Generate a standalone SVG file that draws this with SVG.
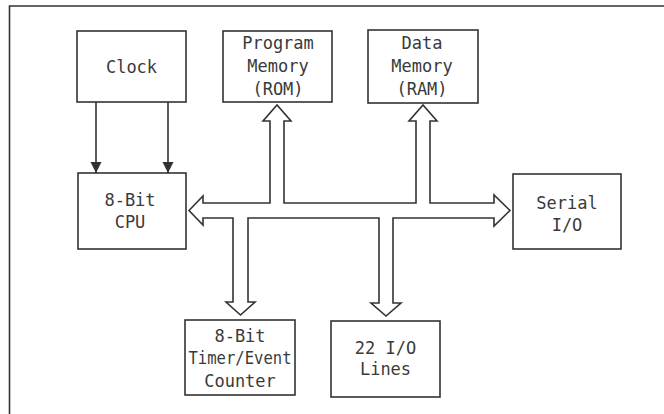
<svg xmlns="http://www.w3.org/2000/svg" width="664" height="414" viewBox="0 0 664 414">
<defs>
<style>
.box{fill:#fff;stroke:#333;stroke-width:1.6}
.t{font-family:"DejaVu Sans Mono","Liberation Mono",monospace;font-size:17px;fill:#3a3a3a;text-anchor:middle}
.ln{stroke:#333;stroke-width:1.6;fill:none}
.bus{fill:#fff;stroke:#333;stroke-width:1.6;stroke-linejoin:miter}
</style>
<marker id="ah" viewBox="0 0 10 10" refX="10" refY="5" markerWidth="11" markerHeight="12" markerUnits="userSpaceOnUse" orient="auto">
<path d="M0,0 L10,5 L0,10 Z" fill="#333"/>
</marker>
</defs>
<rect width="664" height="414" fill="#fff"/>
<path class="ln" d="M9.5,414 V6 H664"/>
<g id="connectors">
<line class="ln" x1="96" y1="102" x2="96" y2="173" marker-end="url(#ah)"/>
<line class="ln" x1="168" y1="102" x2="168" y2="173" marker-end="url(#ah)"/>
<path class="bus" d="M189,210.5 L203,196 L203,203 L270,203 L270,121 L263,121 L277,105 L291,121 L284,121 L284,203 L416,203 L416,121 L409,121 L423,105 L437,121 L430,121 L430,203 L494,203 L494,195 L510,210.5 L494,226 L494,218 L393,218 L393,303 L401,303 L386,316 L371,303 L379,303 L379,218 L248,218 L248,302 L255,302 L240.5,315 L226,302 L233,302 L233,218 L203,218 L203,225 Z"/>
</g>
<g id="clock">
<rect class="box" x="77" y="31" width="109" height="71"/>
<text class="t" x="131.5" y="73">Clock</text>
</g>
<g id="rom">
<rect class="box" x="223" y="31" width="109" height="71"/>
<text class="t" x="278" y="49">Program</text>
<text class="t" x="278" y="72">Memory</text>
<text class="t" x="278" y="95">(ROM)</text>
</g>
<g id="ram">
<rect class="box" x="368" y="30" width="110" height="73"/>
<text class="t" x="422" y="49">Data</text>
<text class="t" x="422" y="72">Memory</text>
<text class="t" x="422" y="95">(RAM)</text>
</g>
<g id="cpu">
<rect class="box" x="78" y="173" width="108" height="76"/>
<text class="t" x="130" y="206">8-Bit</text>
<text class="t" x="130" y="228">CPU</text>
</g>
<g id="serial">
<rect class="box" x="513" y="174" width="108" height="75"/>
<text class="t" x="567" y="209">Serial</text>
<text class="t" x="567" y="231">I/O</text>
</g>
<g id="timer">
<rect class="box" x="185" y="320" width="110" height="75"/>
<text class="t" x="240" y="342">8-Bit</text>
<text class="t" x="240" y="364" textLength="103" lengthAdjust="spacingAndGlyphs">Timer/Event</text>
<text class="t" x="240" y="387">Counter</text>
</g>
<g id="io">
<rect class="box" x="331" y="321" width="109" height="76"/>
<text class="t" x="385.5" y="354">22 I/O</text>
<text class="t" x="385.5" y="375">Lines</text>
</g>
</svg>
